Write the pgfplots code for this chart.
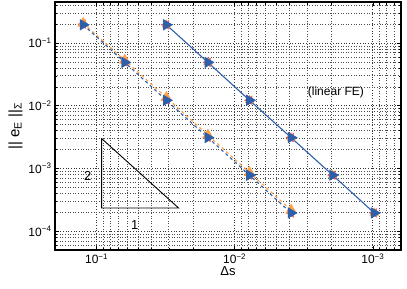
\documentclass[border=0pt]{standalone}
\usepackage{fontspec}
\setmainfont{Liberation Sans}
\usepackage{pgfplots}
\pgfplotsset{compat=1.18}
\definecolor{mblue}{RGB}{45,95,170}
\definecolor{morange}{RGB}{255,160,70}
\definecolor{mred}{RGB}{240,90,90}
\begin{document}
\begin{tikzpicture}
\begin{loglogaxis}[
  scale only axis,
  width=346pt, height=248pt,
  x dir=reverse,
  xmin=0.000625, xmax=0.2,
  ymin=5e-5, ymax=0.45,
  xtick={0.1,0.01,0.001},
  xticklabels={10\textsuperscript{−1},10\textsuperscript{−2},10\textsuperscript{−3}},
  minor xtick={0.0007,0.0008,0.0009,0.002,0.003,0.004,0.005,0.006,0.007,0.008,0.009,0.02,0.03,0.04,0.05,0.06,0.07,0.08,0.09,0.2},
  ytick={0.1,0.01,0.001,0.0001},
  yticklabels={10\textsuperscript{−1},10\textsuperscript{−2},10\textsuperscript{−3},10\textsuperscript{−4}},
  minor ytick={0.00005,0.00006,0.00007,0.00008,0.00009,0.0002,0.0003,0.0004,0.0005,0.0006,0.0007,0.0008,0.0009,0.002,0.003,0.004,0.005,0.006,0.007,0.008,0.009,0.02,0.03,0.04,0.05,0.06,0.07,0.08,0.09,0.2,0.3,0.4},
  tick align=inside,
  tick pos=both,
  axis line style={line width=1.2pt},
  major tick style={black, line width=0.6pt},
  minor tick style={black, line width=0.5pt},
  major tick length=4pt, minor tick length=2.5pt,
  grid=both,
  major grid style={black!80, line width=0.7pt, dash pattern=on 0.7pt off 2pt},
  minor grid style={black!70, line width=0.6pt, dash pattern=on 0.6pt off 2pt},
  ticklabel style={font=\fontsize{12}{14}\selectfont},
  label style={font=\fontsize{13}{15}\selectfont},
  xlabel={Δs},
  ylabel={|| e\textsubscript{E} ||\textsubscript{Σ}},
  xlabel style={yshift=4pt},
  ylabel style={yshift=-1pt, font=\fontsize{15}{17}\selectfont},
  clip=false,
]
% left set
\addplot[only marks, mred, mark=triangle*, mark size=5pt, mark options={rotate=90, fill=mred}]
  coordinates {(0.125,0.2) (0.0625,0.05) (0.03125,0.0125) (0.015625,0.003125) (0.0078125,0.00078125) (0.00390625,0.000195)};
\addplot[morange, dashed, line width=1.1pt, mark=triangle*, mark size=5.5pt, mark options={solid, fill=morange}]
  coordinates {(0.125,0.205) (0.0625,0.053) (0.03125,0.0135) (0.015625,0.0034) (0.0078125,0.00086) (0.00390625,0.000216)};
\addplot[mblue, dashed, line width=1.1pt, mark=triangle*, mark size=5.5pt, mark options={solid, rotate=-90, fill=mblue}]
  coordinates {(0.125,0.195) (0.0625,0.049) (0.03125,0.0122) (0.015625,0.0031) (0.0078125,0.00078) (0.00390625,0.000195)};
% right set
\addplot[only marks, mred, mark=triangle*, mark size=5pt, mark options={rotate=90, fill=mred}]
  coordinates {(0.03125,0.195) (0.015625,0.049) (0.0078125,0.0122) (0.00390625,0.0031) (0.001953125,0.00078) (0.0009765625,0.000195)};
\addplot[only marks, morange, mark=triangle*, mark size=5pt, mark options={fill=morange}]
  coordinates {(0.03125,0.195) (0.015625,0.049) (0.0078125,0.0122) (0.00390625,0.0031) (0.001953125,0.00078) (0.0009765625,0.000195)};
\addplot[mblue, solid, line width=1.1pt, mark=triangle*, mark size=5.5pt, mark options={rotate=-90, fill=mblue}]
  coordinates {(0.03125,0.195) (0.015625,0.049) (0.0078125,0.0122) (0.00390625,0.0031) (0.001953125,0.00078) (0.0009765625,0.000195)};
% slope triangle
\addplot[black, line width=0.9pt, mark=none] coordinates {(0.092,0.003) (0.092,0.000234) (0.0255,0.000234) (0.092,0.003)};
\node[font=\fontsize{13}{15}\selectfont] at (axis cs:0.116,0.00076) {2};
\node[font=\fontsize{13}{15}\selectfont] at (axis cs:0.053,0.000126) {1};
\node[font=\fontsize{12}{14}\selectfont] at (axis cs:0.00185,0.0162) {(linear FE)};
\coordinate (bl) at (rel axis cs:0,0);
\coordinate (tr) at (rel axis cs:1,1);
\end{loglogaxis}
\pgfresetboundingbox
\path ([shift={(-55pt,-38pt)}]bl) rectangle ([shift={(6pt,2pt)}]tr);
\end{tikzpicture}
\end{document}
